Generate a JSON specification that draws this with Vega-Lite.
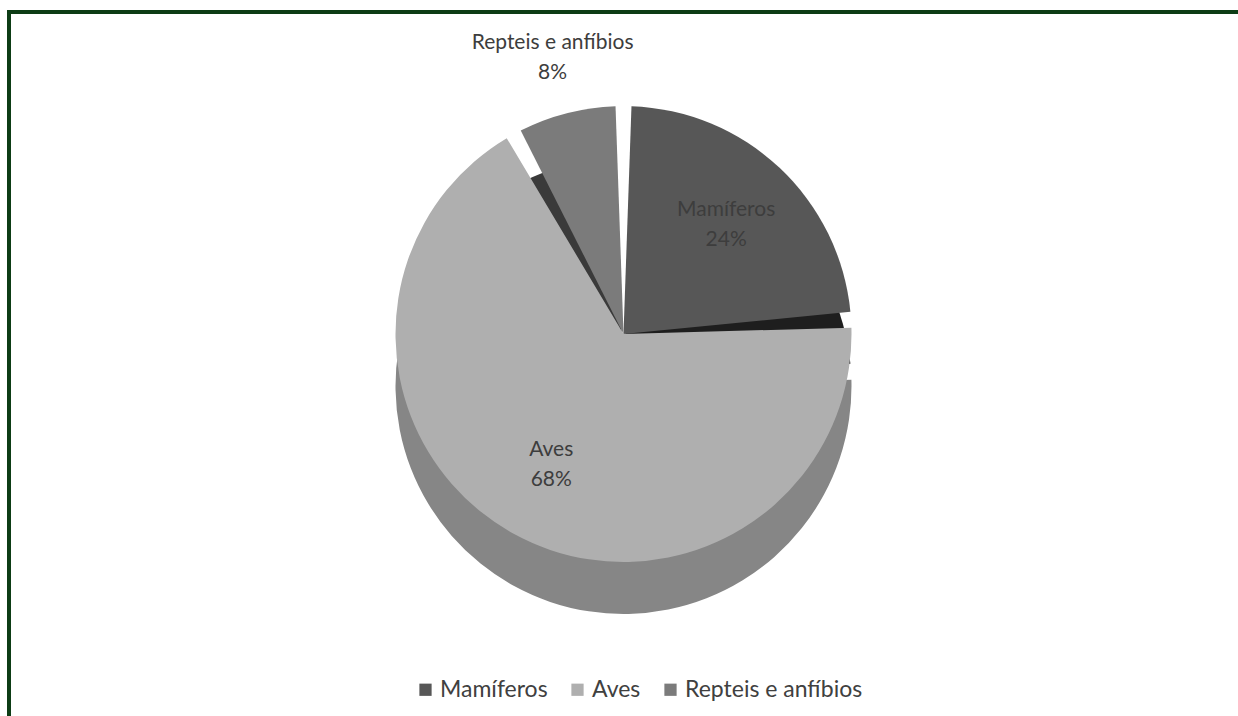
{
  "$schema": "https://vega.github.io/schema/vega-lite/v6.json",
  "width": 1229,
  "height": 704,
  "autosize": {"type": "none"},
  "padding": {"left": 9, "top": 12, "right": 0, "bottom": 0},
  "background": "#ffffff",
  "view": {"stroke": "#0d3c15", "strokeWidth": 4, "strokeDash": [1229, 1933, 704], "strokeCap": "square"},
  "config": {
    "font": "Lato"
  },
  "data": {"values": [
    {"animal": "Mamíferos", "value": 0.24},
    {"animal": "Aves", "value": 0.68},
    {"animal": "Repteis e anfíbios", "value": 0.08}
  ]},
  "encoding": {
    "theta": {"field": "value", "type": "quantitative", "stack": true, "scale": {"range": [-0.50265, 5.78053]}},
    "order": {"field": "animal", "type": "ordinal", "sort": "descending"}
  },
  "resolve": {"scale": {"color": "independent"}, "legend": {"color": "independent"}},
  "layer": [
    {
      "mark": {"type": "arc", "outerRadius": 228, "padAngle": 0.07, "yOffset": 22},
      "encoding": {
        "color": {"field": "animal", "type": "nominal", "legend": null,
          "scale": {"domain": ["Mamíferos", "Aves", "Repteis e anfíbios"], "range": ["#1e1e1e", "#868686", "#3a3a3a"]}}
      }
    },
    {
      "mark": {"type": "arc", "outerRadius": 228, "padAngle": 0.07, "yOffset": -30},
      "encoding": {
        "color": {"field": "animal", "type": "nominal",
          "scale": {"domain": ["Mamíferos", "Aves", "Repteis e anfíbios"], "range": ["#575757", "#afafaf", "#7b7b7b"]},
          "legend": {"title": null, "orient": "none", "legendX": 405, "legendY": 666, "direction": "horizontal",
            "symbolType": "square", "symbolSize": 150, "symbolStrokeWidth": 0, "labelFont": "Lato", "labelFontSize": 23,
            "labelColor": "#404040", "columnPadding": 18, "labelOffset": 3, "labelLimit": 400}}
      }
    },
    {
      "mark": {"type": "text", "radius": {"expr": "datum.animal === 'Repteis e anfíbios' ? 285 : 150"}, "yOffset": -30, "dy": -15,
        "font": "Lato", "fontSize": 21, "fill": "#3d3d3d", "align": "center", "baseline": "middle"},
      "encoding": {"text": {"field": "animal", "type": "nominal"}}
    },
    {
      "mark": {"type": "text", "radius": {"expr": "datum.animal === 'Repteis e anfíbios' ? 285 : 150"}, "yOffset": -30, "dy": 15,
        "font": "Lato", "fontSize": 21, "fill": "#3d3d3d", "align": "center", "baseline": "middle"},
      "encoding": {"text": {"field": "value", "type": "quantitative", "format": ".0%"}}
    }
  ]
}
